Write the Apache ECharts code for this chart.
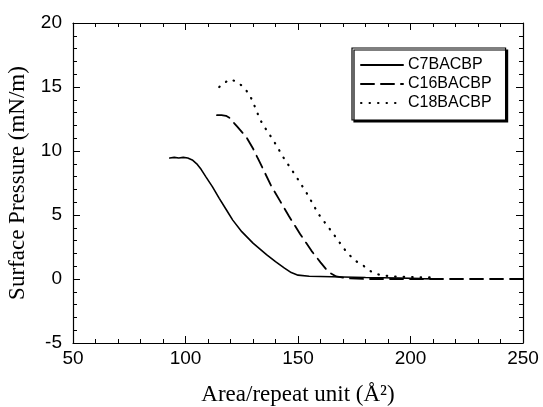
<!DOCTYPE html>
<html>
<head>
<meta charset="utf-8">
<script src="https://cdn.jsdelivr.net/npm/echarts@6/dist/echarts.min.js"></script>
<style>
  html, body { margin: 0; padding: 0; background: #fff; }
  #chart { width: 543px; height: 407px; }
</style>
</head>
<body>
<div id="chart"></div>
<script>
// isotherm data (area in Å², pressure in mN/m)
const c7Area = [93, 95, 97, 99, 101, 103, 105, 107, 109, 112, 115, 118, 121, 125, 130, 136, 140, 144, 147, 150, 155, 165, 180, 195, 205, 212]
const c7Pressure = [9.45, 9.5, 9.45, 9.5, 9.45, 9.3, 9.0, 8.55, 8.0, 7.2, 6.3, 5.45, 4.6, 3.7, 2.8, 1.9, 1.35, 0.85, 0.5, 0.3, 0.22, 0.18, 0.12, 0.08, 0.03, 0.0]

const c16Area = [114, 116, 118, 119.5, 121, 123, 125, 127, 130, 132.5, 135, 138, 142, 146, 151, 156, 160, 163.5, 167, 172, 180, 250]
const c16Pressure = [12.8, 12.8, 12.75, 12.6, 12.3, 11.9, 11.5, 11.1, 10.2, 9.3, 8.4, 7.3, 6.1, 4.9, 3.5, 2.2, 1.3, 0.55, 0.2, 0.05, 0.0, 0.0]

const c18Area = [115, 117, 119.8, 123, 126.4, 129, 131, 133, 135, 139, 143.5, 149.4, 154.6, 159, 165, 171.6, 175.3, 179, 182.8, 186.6, 192, 200, 210]
const c18Pressure = [15.0, 15.3, 15.6, 15.4, 14.9, 14.2, 13.4, 12.5, 11.9, 10.85, 9.5, 7.95, 6.5, 5.1, 3.7, 2.1, 1.45, 1.05, 0.55, 0.3, 0.2, 0.15, 0.12]

const seriesNames = ['C7BACBP', 'C16BACBP', 'C18BACBP']

const pairs = (xs, ys) => xs.map((x, i) => [x, ys[i]])

const chart = echarts.init(document.getElementById('chart'))

const labelFont = { fontFamily: 'Liberation Sans', fontSize: 19, color: '#000' }
const axisLine = { show: true, onZero: false, lineStyle: { color: '#000', width: 1.2 } }
const tick = { show: true, inside: true, length: 7, lineStyle: { color: '#000' } }
const minor = { show: true, splitNumber: 5, length: 4, lineStyle: { color: '#000' } }

const lineSeries = (name, data, type, width) => ({
  name,
  type: 'line',
  data,
  symbol: 'none',
  smooth: false,
  lineStyle: { color: '#000', width, type, cap: 'round' },
  itemStyle: { color: '#000', opacity: 0 }
})

chart.setOption({
  animation: false,
  grid: { left: 73, right: 20, top: 23, bottom: 64, outerBoundsMode: 'none', containLabel: false },
  legend: {
    orient: 'vertical',
    left: 352,
    top: 48,
    padding: [9, 14, 9, 8],
    itemWidth: 42,
    itemHeight: 14,
    itemGap: 3,
    itemTextGap: 4,
    backgroundColor: '#fff',
    borderColor: '#000',
    borderWidth: 1.2,
    shadowColor: '#000',
    shadowBlur: 0,
    shadowOffsetX: 2,
    shadowOffsetY: 2,
    itemStyle: { opacity: 0 },
    textStyle: { fontFamily: 'Liberation Sans', fontSize: 16, color: '#000' },
    data: seriesNames
  },
  xAxis: [
    {
      type: 'value',
      min: 50,
      max: 250,
      interval: 50,
      name: 'Area/repeat unit (Å²)',
      nameLocation: 'middle',
      nameGap: 40,
      nameTextStyle: { fontFamily: 'Liberation Serif', fontSize: 23, color: '#000' },
      axisLine,
      axisTick: tick,
      minorTick: minor,
      splitLine: { show: false },
      axisLabel: { ...labelFont, margin: 6 }
    },
    {
      type: 'value',
      position: 'top',
      min: 50,
      max: 250,
      interval: 50,
      axisLine,
      axisTick: tick,
      minorTick: minor,
      splitLine: { show: false },
      axisLabel: { show: false }
    }
  ],
  yAxis: [
    {
      type: 'value',
      min: -5,
      max: 20,
      interval: 5,
      name: 'Surface Pressure (mN/m)',
      nameLocation: 'middle',
      nameGap: 44,
      nameTextStyle: { fontFamily: 'Liberation Serif', fontSize: 23, color: '#000' },
      axisLine,
      axisTick: tick,
      minorTick: minor,
      splitLine: { show: false },
      axisLabel: { ...labelFont, margin: 11 }
    },
    {
      type: 'value',
      position: 'right',
      min: -5,
      max: 20,
      interval: 5,
      axisLine,
      axisTick: tick,
      minorTick: minor,
      splitLine: { show: false },
      axisLabel: { show: false }
    }
  ],
  series: [
    lineSeries(seriesNames[0], pairs(c7Area, c7Pressure), 'solid', 1.6),
    lineSeries(seriesNames[1], pairs(c16Area, c16Pressure), [13, 7], 1.8),
    lineSeries(seriesNames[2], pairs(c18Area, c18Pressure), [0.5, 8], 2.2)
  ]
})
</script>
</body>
</html>
